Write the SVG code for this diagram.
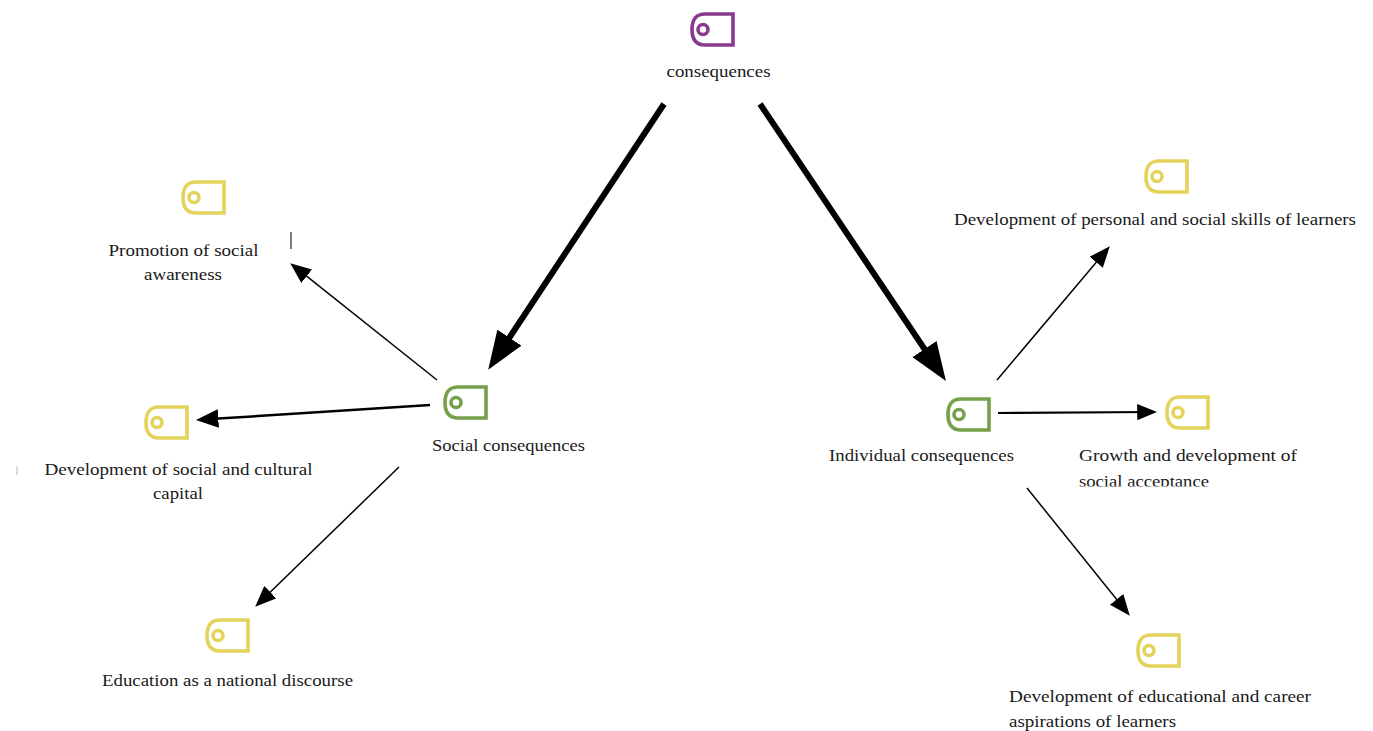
<svg xmlns="http://www.w3.org/2000/svg" width="1373" height="731" viewBox="0 0 1373 731">
<style>
text{font-family:"Liberation Serif","Times New Roman",serif;font-size:17px;fill:#1a1a1a;text-anchor:middle}
.s{text-anchor:start}
.ic{fill:none;stroke-width:3.600}
.p{stroke:#8a3a8c}.g{stroke:#76a04a}.y{stroke:#e3d35a}
.c{fill:none;stroke:#000}
.ah{fill:#000}
</style>
<defs>
<g id="icon"><path d="M43 2H15Q2 2 2 17.500Q2 33 15 33H43Z"/><circle cx="13" cy="17.500" r="5"/></g>
<marker id="big" viewBox="0 0 40 30" refX="30" refY="15" markerWidth="6.400" markerHeight="4.800" orient="auto"><path class="ah" d="M0 0L40 15L0 30Z"/></marker>
<marker id="sm" viewBox="0 0 22 18" refX="16" refY="9" markerWidth="14" markerHeight="11.500" orient="auto"><path class="ah" d="M0 0L22 9L0 18Z"/></marker>
<marker id="md" viewBox="0 0 22 18" refX="16" refY="9" markerWidth="9" markerHeight="7.400" orient="auto"><path class="ah" d="M0 0L22 9L0 18Z"/></marker>
<clipPath id="cut"><rect x="1060" y="440" width="260" height="46.500"/></clipPath>
</defs>
<g id="connectors">
<line class="c" x1="664" y1="104" x2="493.500" y2="361.700" stroke-width="6" marker-end="url(#big)"/>
<line class="c" x1="760" y1="104" x2="940.600" y2="373" stroke-width="6" marker-end="url(#big)"/>
<line class="c" x1="437" y1="380" x2="294.700" y2="266.700" stroke-width="1.500" marker-end="url(#sm)"/>
<line class="c" x1="430" y1="405" x2="202" y2="419.600" stroke-width="2.500" marker-end="url(#md)"/>
<line class="c" x1="399" y1="467" x2="259.300" y2="602.800" stroke-width="1.500" marker-end="url(#sm)"/>
<line class="c" x1="997" y1="380" x2="1106.100" y2="250.600" stroke-width="1.500" marker-end="url(#sm)"/>
<line class="c" x1="998" y1="413" x2="1151.600" y2="412" stroke-width="2.200" marker-end="url(#md)"/>
<line class="c" x1="1027" y1="488" x2="1126.200" y2="611.300" stroke-width="1.500" marker-end="url(#sm)"/>
</g>
<g id="n-consequences"><use href="#icon" x="690" y="12" class="ic p"/><text x="718.500" y="77" textLength="104" lengthAdjust="spacingAndGlyphs">consequences</text></g>
<g id="n-promotion"><use href="#icon" x="181" y="180" class="ic y"/><text x="183.500" y="256" textLength="150" lengthAdjust="spacingAndGlyphs">Promotion of social</text><text x="183" y="280" textLength="78" lengthAdjust="spacingAndGlyphs">awareness</text></g>
<g id="n-capital"><use href="#icon" x="144" y="405" class="ic y"/><text x="178.500" y="475" textLength="268" lengthAdjust="spacingAndGlyphs">Development of social and cultural</text><text x="178" y="499" textLength="50" lengthAdjust="spacingAndGlyphs">capital</text></g>
<g id="n-social"><use href="#icon" x="443" y="385" class="ic g"/><text x="508.500" y="451" textLength="153" lengthAdjust="spacingAndGlyphs">Social consequences</text></g>
<g id="n-education"><use href="#icon" x="205" y="618" class="ic y"/><text x="227.500" y="686" textLength="251" lengthAdjust="spacingAndGlyphs">Education as a national discourse</text></g>
<g id="n-individual"><use href="#icon" x="946" y="397" class="ic g"/><text x="921.500" y="461" textLength="185" lengthAdjust="spacingAndGlyphs">Individual consequences</text></g>
<g id="n-personal"><use href="#icon" x="1144" y="159" class="ic y"/><text x="1155" y="225" textLength="402" lengthAdjust="spacingAndGlyphs">Development of personal and social skills of learners</text></g>
<g id="n-growth"><use href="#icon" x="1165" y="395" class="ic y"/><text class="s" x="1079" y="461" textLength="218" lengthAdjust="spacingAndGlyphs">Growth and development of</text><g clip-path="url(#cut)"><text class="s" x="1079" y="487" textLength="130" lengthAdjust="spacingAndGlyphs">social acceptance</text></g></g>
<g id="n-career"><use href="#icon" x="1136" y="633" class="ic y"/><text class="s" x="1009" y="702" textLength="302" lengthAdjust="spacingAndGlyphs">Development of educational and career</text><text class="s" x="1009" y="727" textLength="167" lengthAdjust="spacingAndGlyphs">aspirations of learners</text></g>
<path d="M291 232V249" stroke="#222" stroke-width="1.200" fill="none"/>
<path d="M17 466V475" stroke="#bbb" stroke-width="1" fill="none"/>
</svg>
